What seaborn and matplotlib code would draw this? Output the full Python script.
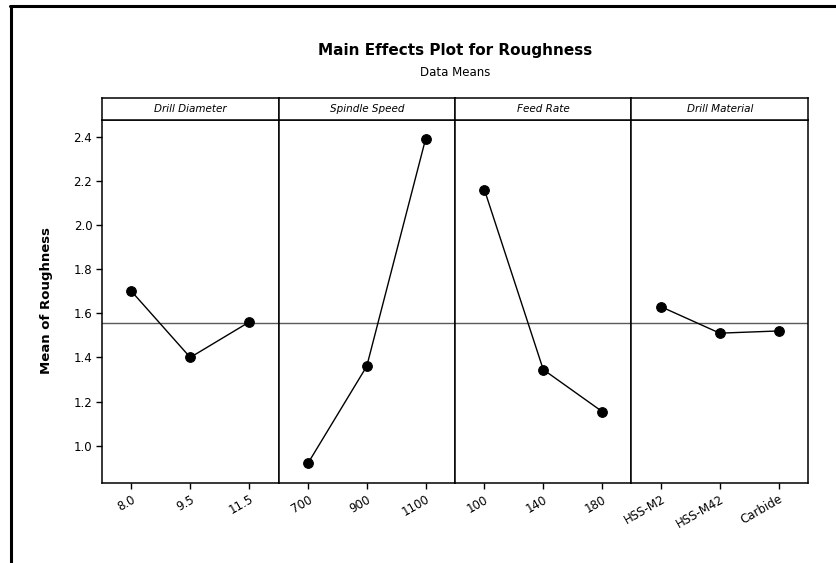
import numpy as np
import pandas as pd
import matplotlib
matplotlib.use('Agg')
import matplotlib.pyplot as plt
from matplotlib.lines import Line2D
import seaborn as sns

# Factor names and level means
factors = ['Drill Diameter', 'Spindle Speed', 'Feed Rate', 'Drill Material']
diameter_levels = ['8.0', '9.5', '11.5']
diameter_means = [1.70, 1.40, 1.56]
speed_levels = ['700', '900', '1100']
speed_means = [0.92, 1.36, 2.39]
feed_levels = ['100', '140', '180']
feed_means = [2.16, 1.345, 1.155]
material_levels = ['HSS-M2', 'HSS-M42', 'Carbide']
material_means = [1.63, 1.51, 1.52]
y_ticks = [1.0, 1.2, 1.4, 1.6, 1.8, 2.0, 2.2, 2.4]

levels = [diameter_levels, speed_levels, feed_levels, material_levels]
means = [diameter_means, speed_means, feed_means, material_means]
grand_mean = np.mean(np.concatenate(means))

sns.set_theme(style='white')
plt.rcParams['font.family'] = ['DejaVu Sans']
plt.rcParams['text.color'] = 'black'
plt.rcParams['xtick.color'] = 'black'
plt.rcParams['ytick.color'] = 'black'
plt.rcParams['axes.labelcolor'] = 'black'

W, H = 837, 563
fig = plt.figure(figsize=(W / 100, H / 100), dpi=100)

# panel layout in pixels
x0, x1 = 102, 808
top, bot, strip_top = 120, 483, 98
pw = (x1 - x0) / 4

for i, factor in enumerate(factors):
    ax = fig.add_axes([(x0 + i * pw) / W, 1 - bot / H, pw / W, (bot - top) / H])
    df = pd.DataFrame({'level': levels[i], 'mean': means[i]})
    sns.pointplot(data=df, x='level', y='mean', order=levels[i], color='black',
                  markers='o', linestyles='-', errorbar=None,
                  markersize=7, linewidth=1, ax=ax)
    ax.axhline(grand_mean, color='#5a5a5a', lw=1, zorder=0)
    ax.set_xlim(-0.5, 2.5)
    ax.set_ylim(0.831, 2.476)
    ax.set_xlabel('')
    ax.set_ylabel('')
    for s in ax.spines.values():
        s.set_color('black')
        s.set_linewidth(1.1)
    ax.tick_params(axis='x', direction='out', length=4, width=1, color='black',
                   labelcolor='black', bottom=True, labelsize=8.5, pad=3)
    plt.setp(ax.get_xticklabels(), rotation=30, ha='right', rotation_mode='anchor')
    if i == 0:
        ax.set_yticks(y_ticks)
        ax.set_yticklabels([f'{v:.1f}' for v in y_ticks])
        ax.tick_params(axis='y', direction='out', length=4, width=1, color='black',
                       labelcolor='black', left=True, labelsize=8.5, pad=3)
    else:
        ax.set_yticks([])

    # facet header strip
    st = fig.add_axes([(x0 + i * pw) / W, 1 - top / H, pw / W, (top - strip_top) / H])
    st.set_xticks([])
    st.set_yticks([])
    for s in st.spines.values():
        s.set_color('black')
        s.set_linewidth(1.1)
    st.text(0.5, 0.5, factor, ha='center', va='center', style='italic', fontsize=7.5,
            color='black', transform=st.transAxes)

fig.text(455 / W, 1 - 50 / H, 'Main Effects Plot for Roughness', ha='center', va='center',
         fontsize=11, fontweight='bold', color='black')
fig.text(455 / W, 1 - 73 / H, 'Data Means', ha='center', va='center', fontsize=8.5,
         color='black')
fig.text(47 / W, 1 - 301 / H, 'Mean of Roughness', ha='center', va='center',
         rotation=90, fontsize=9.5, fontweight='bold', color='black')

# outer frame lines
fig.add_artist(Line2D([11 / W, 11 / W], [0, 1 - 6 / H], color='black', lw=2.2))
fig.add_artist(Line2D([10 / W, 1], [1 - 6 / H, 1 - 6 / H], color='black', lw=2.2))

fig.savefig('out.png', dpi=100)
